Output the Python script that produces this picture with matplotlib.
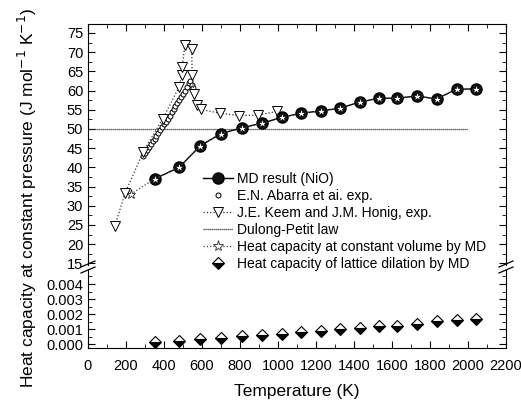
import numpy as np
import matplotlib.pyplot as plt
from matplotlib.ticker import MultipleLocator, FormatStrFormatter
from matplotlib.lines import Line2D

plt.rcParams['font.family'] = ['Liberation Sans', 'DejaVu Sans']

# MD result (NiO), heat capacity at constant pressure
md_T = [350, 480, 590, 700, 810, 915, 1020, 1120, 1225, 1325, 1430, 1530, 1625, 1730, 1835, 1940, 2040]
md_cp = [37.0, 40.0, 45.6, 48.8, 50.3, 51.5, 53.0, 54.1, 54.7, 55.4, 57.0, 58.0, 58.0, 58.6, 57.8, 60.4, 60.4]

# heat capacity at constant volume by MD
cv_T = [225, 350, 480, 590, 700, 810, 915, 1020, 1120, 1225, 1325, 1430, 1530, 1625, 1730, 1835, 1940, 2040]
cv = [33.0, 37.0, 40.0, 45.6, 48.8, 50.3, 51.5, 53.0, 54.1, 54.7, 55.4, 57.0, 58.0, 58.0, 58.6, 57.8, 60.4, 60.4]

# E.N. Abarra et al. exp.
ab_T = [290, 300, 310, 320, 330, 340, 350, 360, 370, 380, 390, 400, 410, 420, 430,
        440, 450, 460, 470, 480, 490, 500, 510, 520, 530, 537, 545, 550]
ab_cp = [43.0, 43.8, 44.6, 45.3, 46.0, 46.8, 47.5, 48.2, 48.9, 49.7, 50.4, 51.2, 51.9, 52.7, 53.5,
         54.4, 55.2, 56.0, 56.8, 57.5, 58.3, 59.1, 60.0, 61.0, 62.0, 62.5, 61.5, 60.8]

# J.E. Keem and J.M. Honig, exp.
jk_T = [142, 195, 291, 393, 479, 493, 496, 510, 546, 548, 558, 575, 593, 695, 795, 893, 997]
jk_cp = [24.8, 33.3, 44.1, 52.6, 60.9, 64.1, 66.2, 71.9, 70.8, 64.1, 59.0, 56.2, 55.1, 54.1, 53.5, 53.6, 54.6]

# Dulong-Petit law
dp_T = [0, 2000]
dp_cp = [50.0, 50.0]

# heat capacity of lattice dilation by MD
lat_T = md_T
lat = [0.00015, 0.00025, 0.00033, 0.00044, 0.00055, 0.0006, 0.0007, 0.0008, 0.0009,
       0.001, 0.0011, 0.0012, 0.0012, 0.00133, 0.00155, 0.0016, 0.0017]

fig = plt.figure(figsize=(5.21, 4.08), dpi=100)
L, R = 88 / 521, 506 / 521
ax1 = fig.add_axes([L, 1 - 265 / 408, R - L, (265 - 24) / 408])
ax2 = fig.add_axes([L, 1 - 348 / 408, R - L, (348 - 270) / 408])

ax1.plot(dp_T, dp_cp, color='#333333', ls=(0, (1, 0.6)), lw=0.9)
ax1.plot(ab_T, ab_cp, ls=(0, (2, 1.5)), color='#333333', lw=0.8,
         marker='o', ms=3.6, mfc='white', mec='black', mew=0.7)
ax1.plot(jk_T, jk_cp, ls=':', color='#333333', lw=0.9,
         marker='v', ms=7.5, mfc='white', mec='black', mew=0.7)
ax1.plot(md_T, md_cp, color='black', lw=1.0, marker='o', ms=8, mfc='#111111', mec='black')
ax1.plot(cv_T, cv, ls=':', color='#444444', lw=0.9,
         marker='*', ms=6.5, mfc='white', mec='black', mew=0.5)
ax2.plot(lat_T, lat, ls='none', marker='D', ms=6.5, fillstyle='bottom',
         mfc='black', mfcalt='white', mec='black', mew=0.8)

for ax in (ax1, ax2):
    ax.set_xlim(0, 2200)
    ax.xaxis.set_major_locator(MultipleLocator(200))
    ax.xaxis.set_minor_locator(MultipleLocator(100))
    ax.tick_params(which='both', direction='in', top=True, right=True, labelsize=10.5)
    ax.tick_params(which='major', length=5)
    ax.tick_params(which='minor', length=3)

ax1.set_ylim(14.58, 77.34)
ax1.yaxis.set_major_locator(MultipleLocator(5))
ax1.yaxis.set_minor_locator(MultipleLocator(2.5))
ax1.spines['bottom'].set_visible(False)
ax1.tick_params(which='both', bottom=False, labelbottom=False)

ax2.set_ylim(-0.000245, 0.00493)
ax2.yaxis.set_major_locator(MultipleLocator(0.001))
ax2.yaxis.set_minor_locator(MultipleLocator(0.0005))
ax2.yaxis.set_major_formatter(FormatStrFormatter('%.3f'))
ax2.spines['top'].set_visible(False)
ax2.tick_params(which='both', top=False)
ax2.tick_params(axis='x', pad=8)
ax2.set_xlabel('Temperature (K)', fontsize=12.5, labelpad=8)

# axis break marks
for xf in (L, R):
    for yp in (264, 270):
        x0, y0 = xf * 521 - 7, 408 - yp - 3
        fig.add_artist(Line2D([x0 / 521, (x0 + 14) / 521], [y0 / 408, (y0 + 6) / 408],
                              color='black', lw=0.9))

fig.text(0.052, 1 - 198 / 408, 'Heat capacity at constant pressure (J mol$^{-1}$ K$^{-1}$)',
         rotation=90, ha='center', va='center', fontsize=12.5)

handles = [
    Line2D([], [], color='black', lw=1.0, marker='o', ms=8, mfc='#111111', mec='black'),
    Line2D([], [], ls='none', marker='o', ms=3.6, mfc='white', mec='black', mew=0.7),
    Line2D([], [], ls=':', color='#333333', lw=0.9, marker='v', ms=7.5, mfc='white', mec='black', mew=0.7),
    Line2D([], [], color='#333333', ls=(0, (1, 0.6)), lw=0.9),
    Line2D([], [], ls=':', color='#444444', lw=0.9, marker='*', ms=8, mfc='white', mec='#444444', mew=0.7),
    Line2D([], [], ls='none', marker='D', ms=6.5, fillstyle='bottom', mfc='black', mfcalt='white',
           mec='black', mew=0.8),
]
labels = ['MD result (NiO)', 'E.N. Abarra et ai. exp.', 'J.E. Keem and J.M. Honig, exp.',
          'Dulong-Petit law', 'Heat capacity at constant volume by MD',
          'Heat capacity of lattice dilation by MD']
fig.legend(handles, labels, loc='upper left', bbox_to_anchor=(203 / 521, 1 - 172 / 408),
           bbox_transform=fig.transFigure, frameon=False, fontsize=10, borderpad=0,
           borderaxespad=0, labelspacing=0.22, handlelength=2.15, handletextpad=0.3)

fig.savefig('out.png', dpi=100)
